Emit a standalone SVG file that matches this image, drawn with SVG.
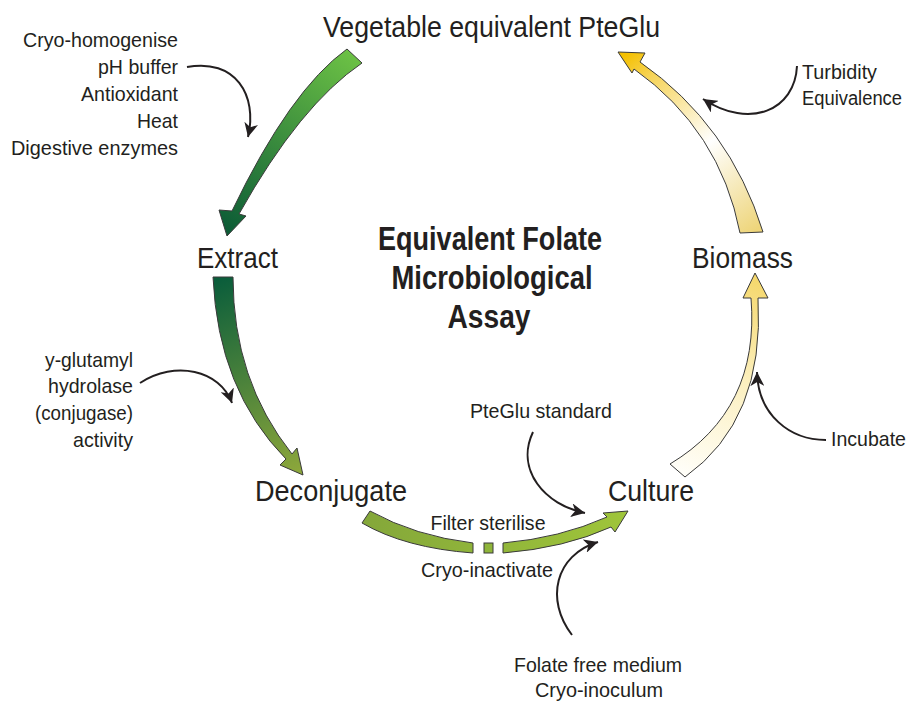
<svg xmlns="http://www.w3.org/2000/svg" width="912" height="702" viewBox="0 0 912 702">
<style>
text{font-family:"Liberation Sans Narrow","Liberation Sans",Arial,sans-serif;fill:#231f20}
.node{font-size:29px}
.title{font-size:34px;font-weight:bold;text-anchor:middle}
.note{font-size:21px}
.r{text-anchor:end}
.m{text-anchor:middle}
.big{stroke:#3a3a3a;stroke-width:1;stroke-linejoin:miter}
.thin{fill:none;stroke:#231f20;stroke-width:2;marker-end:url(#ah)}
</style>
<defs>
<marker id="ah" markerUnits="userSpaceOnUse" markerWidth="16" markerHeight="14" refX="14" refY="7" orient="auto">
<path d="M0,0 L14,7 L0,14 L4,7 Z" fill="#231f20"/>
</marker>
<linearGradient id="g1" gradientUnits="userSpaceOnUse" x1="355" y1="55" x2="227" y2="236">
<stop offset="0" stop-color="#6cc145"/><stop offset="1" stop-color="#0b5a36"/>
</linearGradient>
<linearGradient id="g2" gradientUnits="userSpaceOnUse" x1="223" y1="277" x2="300" y2="475">
<stop offset="0" stop-color="#0a5d3b"/><stop offset="1" stop-color="#8ea83b"/>
</linearGradient>
<linearGradient id="g3" gradientUnits="userSpaceOnUse" x1="362" y1="520" x2="628" y2="520">
<stop offset="0" stop-color="#84a73a"/><stop offset="1" stop-color="#9fc53a"/>
</linearGradient>
<linearGradient id="g4" gradientUnits="userSpaceOnUse" x1="678" y1="470" x2="755" y2="275">
<stop offset="0" stop-color="#fffef8"/><stop offset="0.5" stop-color="#fcf0c0"/><stop offset="1" stop-color="#f5d76a"/>
</linearGradient>
<linearGradient id="g5" gradientUnits="userSpaceOnUse" x1="752" y1="233" x2="625" y2="55">
<stop offset="0" stop-color="#eed57a"/><stop offset="0.45" stop-color="#ffffff"/><stop offset="0.85" stop-color="#f6d45a"/><stop offset="1" stop-color="#f4c000"/>
</linearGradient>
</defs>

<g id="connectors">
<path class="big" fill="url(#g1)" d="M347,49 Q290,90 232,211 L219,210 L227,236 L246,216 L239,214 Q300,105 362,63 Z"/>
<path class="big" fill="url(#g2)" d="M213,277 Q218,390 286,459 L280,465 L303,475 L297,448 L292,454 Q233,380 233,277 Z"/>
<path class="big" fill="url(#g3)" d="M370,511 Q415,536 473,543 L473,553 Q405,548 362,523 Z"/>
<rect class="big" fill="#8fb53a" x="484" y="543" width="9" height="10"/>
<path class="big" fill="url(#g3)" d="M503,543 Q560,538 607,517 L603,513 L628,511 L615,532 L611,527 Q565,548 503,553 Z"/>
<path class="big" fill="url(#g4)" d="M670,464 Q760,410 751,298 L743,298 L755,273 L768,298 L758,298 Q765,420 685,477 Z"/>
<path class="big" fill="url(#g5)" d="M740,233 Q720,130 634,69 L632,73 L618,52 L645,53 L640,62 Q730,125 763,232 Z"/>
<path class="thin" d="M187,67 C235,58 258,95 248,137"/>
<path class="thin" d="M797,66 C795,110 750,130 703,99"/>
<path class="thin" d="M140,383 C175,360 220,370 232,403"/>
<path class="thin" d="M826,440 C790,440 758,415 757,372"/>
<path class="thin" d="M533,432 C515,470 545,505 585,513"/>
<path class="thin" d="M572,635 C545,600 555,555 598,542"/>
</g>

<g id="node-pteglu"><text class="node" x="323" y="37" textLength="337" lengthAdjust="spacingAndGlyphs">Vegetable equivalent PteGlu</text></g>
<g id="node-extract"><text class="node" x="197" y="268" textLength="81" lengthAdjust="spacingAndGlyphs">Extract</text></g>
<g id="node-biomass"><text class="node" x="692" y="268" textLength="101" lengthAdjust="spacingAndGlyphs">Biomass</text></g>
<g id="node-deconjugate"><text class="node" x="255" y="501" textLength="152" lengthAdjust="spacingAndGlyphs">Deconjugate</text></g>
<g id="node-culture"><text class="node" x="608" y="501" textLength="86" lengthAdjust="spacingAndGlyphs">Culture</text></g>

<g id="title">
<text class="title" x="490" y="250" textLength="224" lengthAdjust="spacingAndGlyphs">Equivalent Folate</text>
<text class="title" x="492" y="289" textLength="201" lengthAdjust="spacingAndGlyphs">Microbiological</text>
<text class="title" x="489" y="328" textLength="83" lengthAdjust="spacingAndGlyphs">Assay</text>
</g>

<g id="note-extract">
<text class="note r" x="178" y="47" textLength="155" lengthAdjust="spacingAndGlyphs">Cryo-homogenise</text>
<text class="note r" x="178" y="74" textLength="80" lengthAdjust="spacingAndGlyphs">pH buffer</text>
<text class="note r" x="178" y="101" textLength="97" lengthAdjust="spacingAndGlyphs">Antioxidant</text>
<text class="note r" x="178" y="128" textLength="41" lengthAdjust="spacingAndGlyphs">Heat</text>
<text class="note r" x="178" y="155" textLength="167" lengthAdjust="spacingAndGlyphs">Digestive enzymes</text>
</g>
<g id="note-conjugase">
<text class="note r" x="133" y="367" textLength="88" lengthAdjust="spacingAndGlyphs">y-glutamyl</text>
<text class="note r" x="133" y="393" textLength="85" lengthAdjust="spacingAndGlyphs">hydrolase</text>
<text class="note r" x="133" y="420" textLength="98" lengthAdjust="spacingAndGlyphs">(conjugase)</text>
<text class="note r" x="133" y="447" textLength="60" lengthAdjust="spacingAndGlyphs">activity</text>
</g>
<g id="note-turbidity">
<text class="note" x="802" y="79" textLength="75" lengthAdjust="spacingAndGlyphs">Turbidity</text>
<text class="note" x="802" y="105" textLength="100" lengthAdjust="spacingAndGlyphs" style="font-size:20px">Equivalence</text>
</g>
<g id="note-incubate"><text class="note" x="831" y="446" textLength="75" lengthAdjust="spacingAndGlyphs">Incubate</text></g>
<g id="note-standard"><text class="note m" x="541" y="418" textLength="142" lengthAdjust="spacingAndGlyphs">PteGlu standard</text></g>
<g id="note-filter"><text class="note m" x="488" y="530" textLength="115" lengthAdjust="spacingAndGlyphs">Filter sterilise</text></g>
<g id="note-cryo"><text class="note m" x="487" y="577" textLength="132" lengthAdjust="spacingAndGlyphs">Cryo-inactivate</text></g>
<g id="note-medium">
<text class="note m" x="598" y="672" textLength="168" lengthAdjust="spacingAndGlyphs">Folate free medium</text>
<text class="note m" x="599" y="697" textLength="128" lengthAdjust="spacingAndGlyphs">Cryo-inoculum</text>
</g>
</svg>
